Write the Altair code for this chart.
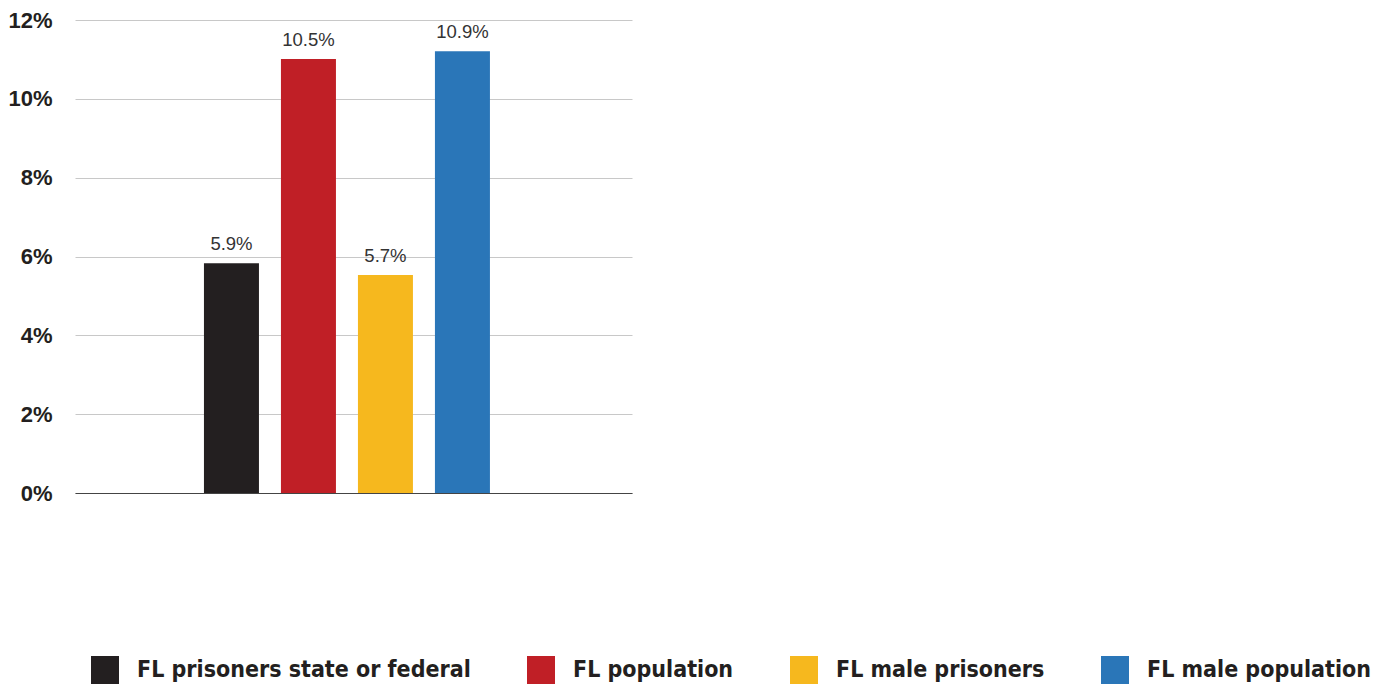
import altair as alt
import pandas as pd

categories = ["FL prisoners state or federal", "FL population", "FL male prisoners", "FL male population"]
values = [5.83, 11.01, 5.53, 11.21]
labels = ["5.9%", "10.5%", "5.7%", "10.9%"]
colors = ["#231f20", "#c01f26", "#f6b81e", "#2a76b8"]
y_ticks = [0, 2, 4, 6, 8, 10, 12]

df = pd.DataFrame({"cat": categories, "val": values, "label": labels})

# empty slots on both sides of the group of bars
x_domain = ["_left"] + categories + ["_right"]
xscale = alt.Scale(domain=x_domain, paddingInner=0.2857, paddingOuter=0.76, align=0.444)

x = alt.X(
    "cat:N",
    title=None,
    scale=xscale,
    axis=alt.Axis(labels=False, ticks=False, grid=False, domainColor="#444444", domainWidth=1),
)
y = alt.Y(
    "val:Q",
    title=None,
    scale=alt.Scale(domain=[0, 12], nice=False),
    axis=alt.Axis(
        values=y_ticks,
        labelExpr="datum.value + '%'",
        ticks=False,
        domain=False,
        labelPadding=23,
        labelFont="Liberation Sans",
        labelFontSize=22,
        labelFontWeight="bold",
        labelColor="#231f20",
        gridColor="#c8c8c8",
        gridWidth=1,
    ),
)

bars = alt.Chart(df).mark_bar(size=55).encode(
    x=x,
    y=y,
    color=alt.Color(
        "cat:N",
        sort=categories,
        scale=alt.Scale(domain=categories, range=colors),
        legend=alt.Legend(
            title=None,
            orient="none",
            legendX=16,
            legendY=636,
            direction="horizontal",
            symbolType="square",
            symbolSize=784,
            symbolStrokeWidth=0,
            symbolOpacity=1,
            labelFont="DejaVu Sans Condensed, Liberation Sans",
            labelFontSize=23,
            labelFontWeight="bold",
            labelColor="#231f20",
            labelOffset=18,
            labelLimit=0,
            columnPadding=56,
        ),
    ),
)

text = alt.Chart(df).mark_text(
    dy=-13, baseline="alphabetic", fontSize=18.5, font="Liberation Sans", color="#333333"
).encode(x=alt.X("cat:N", scale=xscale), y="val:Q", text="label:N")

chart = (
    alt.layer(bars, text)
    .properties(
        width=557,
        height=473,
        autosize=alt.AutoSizeParams(type="none"),
        padding={"left": 75, "top": 20, "right": 760, "bottom": 191},
    )
    .configure_view(stroke=None)
)

chart.save("out.html", embed_options={"renderer": "svg", "actions": False})
